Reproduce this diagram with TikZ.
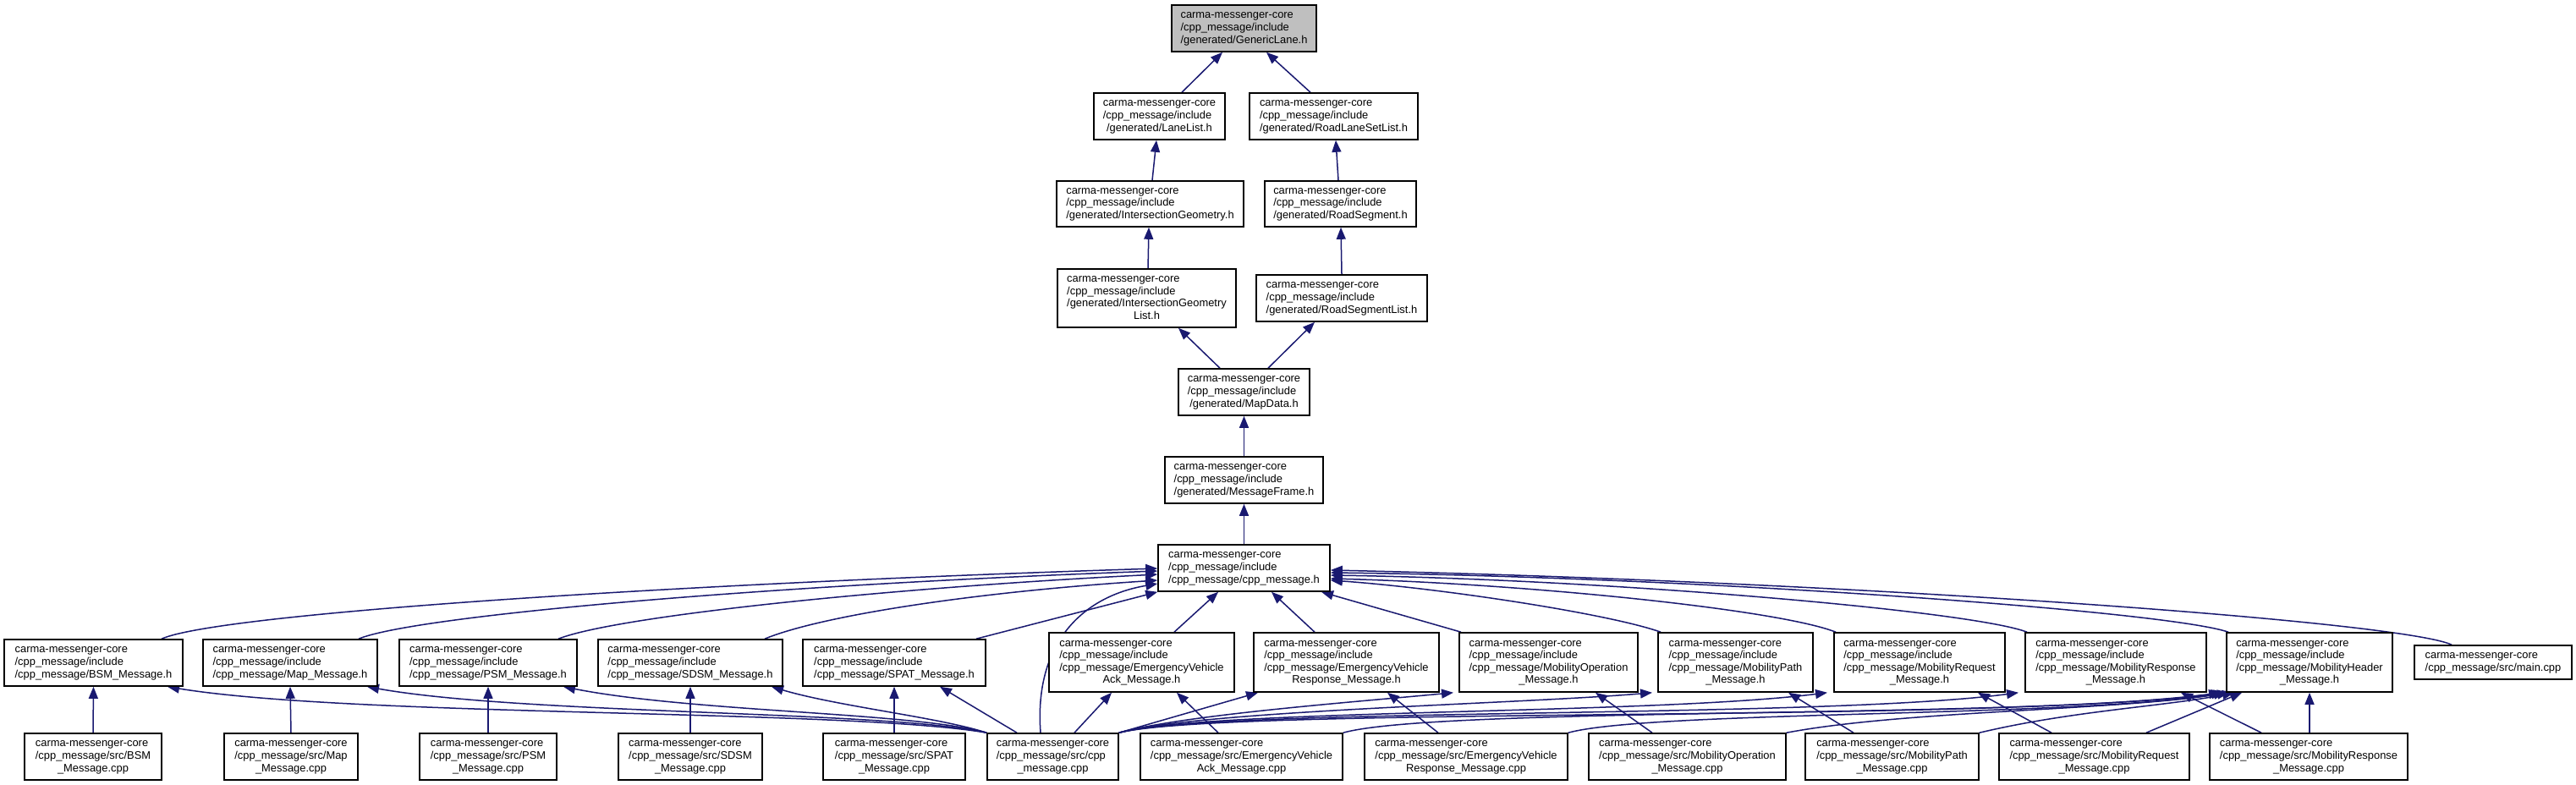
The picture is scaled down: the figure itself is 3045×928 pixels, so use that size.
\documentclass[tikz,border=0pt]{standalone}
\usepackage{fontspec}
\setmainfont{Liberation Sans}
\usetikzlibrary{arrows.meta,backgrounds}
\definecolor{edgeblue}{HTML}{191970}
\definecolor{boxgray}{HTML}{BFBFBF}
\newcommand\Ltab[1]{\begin{tabular}{@{}l@{}}#1\end{tabular}}
\newcommand\LC[1]{\multicolumn{1}{@{}c@{}}{#1}}
\newcommand\HI{carma-messenger-core\\/cpp\_message/include\\}
\newcommand\HS{carma-messenger-core\\}
\newcommand\mkbox[7][]{\node[nd,#1,minimum width={(#5-#3)*1pt},minimum height={(#6-#4)*1pt}] (#2) at ({(#3+#5)/2},{(#4+#6)/2}) {\Ltab{#7}};}
\tikzset{
  nd/.style={draw=black, line width=1.6pt, fill=white, inner sep=0pt, font=\fontsize{12.9}{14.6}\selectfont},
  ed/.style={draw=edgeblue, line width=1.5pt, -{Triangle[length=14pt,width=11pt]}}
}
\begin{document}
\begin{tikzpicture}[x=1pt,y=-1pt]
\useasboundingbox (0,0) rectangle (3045,928);
% top chain
\mkbox[fill=boxgray]{gl}{1385}{6}{1556}{61}{\HI\LC{/generated/GenericLane.h}}
\mkbox{ll}{1293}{110}{1448}{165}{\HI\LC{/generated/LaneList.h}}
\mkbox{rl}{1477}{110}{1676}{165}{\HI\LC{/generated/RoadLaneSetList.h}}
\mkbox{ig}{1249}{214}{1470}{268}{\HI\LC{/generated/IntersectionGeometry.h}}
\mkbox{rs}{1495}{214}{1674}{268}{\HI\LC{/generated/RoadSegment.h}}
\mkbox{igl}{1250}{318}{1461}{387}{\HI/generated/IntersectionGeometry\\\LC{List.h}}
\mkbox{rsl}{1485}{325}{1687}{380}{\HI\LC{/generated/RoadSegmentList.h}}
\mkbox{md}{1393}{436}{1548}{491}{\HI\LC{/generated/MapData.h}}
\mkbox{mf}{1377}{540}{1564}{595}{\HI\LC{/generated/MessageFrame.h}}
\mkbox{cmh}{1369}{644}{1572}{699}{\HI\LC{/cpp\_message/cpp\_message.h}}
% headers row
\mkbox{bsmh}{5}{756}{216}{811}{\HI\LC{/cpp\_message/BSM\_Message.h}}
\mkbox{maph}{240}{756}{446}{811}{\HI\LC{/cpp\_message/Map\_Message.h}}
\mkbox{psmh}{472}{756}{682}{811}{\HI\LC{/cpp\_message/PSM\_Message.h}}
\mkbox{sdsmh}{707}{756}{925}{811}{\HI\LC{/cpp\_message/SDSM\_Message.h}}
\mkbox{spath}{949}{756}{1165}{811}{\HI\LC{/cpp\_message/SPAT\_Message.h}}
\mkbox{evah}{1240}{748}{1459}{818}{\HI/cpp\_message/EmergencyVehicle\\\LC{Ack\_Message.h}}
\mkbox{evrh}{1482}{748}{1701}{818}{\HI/cpp\_message/EmergencyVehicle\\\LC{Response\_Message.h}}
\mkbox{moh}{1725}{748}{1936}{818}{\HI/cpp\_message/MobilityOperation\\\LC{\_Message.h}}
\mkbox{mph}{1960}{748}{2143}{818}{\HI/cpp\_message/MobilityPath\\\LC{\_Message.h}}
\mkbox{mrqh}{2168}{748}{2370}{818}{\HI/cpp\_message/MobilityRequest\\\LC{\_Message.h}}
\mkbox{mrsh}{2394}{748}{2608}{818}{\HI/cpp\_message/MobilityResponse\\\LC{\_Message.h}}
\mkbox{mhh}{2632}{748}{2828}{818}{\HI/cpp\_message/MobilityHeader\\\LC{\_Message.h}}
\mkbox{mainc}{2854}{763}{3040}{803}{\HS\LC{/cpp\_message/src/main.cpp}}
% sources row
\mkbox{bsmc}{29}{867}{191}{922}{\HS/cpp\_message/src/BSM\\\LC{\_Message.cpp}}
\mkbox{mapc}{265}{867}{423}{922}{\HS/cpp\_message/src/Map\\\LC{\_Message.cpp}}
\mkbox{psmc}{496}{867}{658}{922}{\HS/cpp\_message/src/PSM\\\LC{\_Message.cpp}}
\mkbox{sdsmc}{731}{867}{901}{922}{\HS/cpp\_message/src/SDSM\\\LC{\_Message.cpp}}
\mkbox{spatc}{973}{867}{1141}{922}{\HS/cpp\_message/src/SPAT\\\LC{\_Message.cpp}}
\mkbox{cppc}{1167}{867}{1322}{922}{\HS/cpp\_message/src/cpp\\\LC{\_message.cpp}}
\mkbox{evac}{1348}{867}{1587}{922}{\HS/cpp\_message/src/EmergencyVehicle\\\LC{Ack\_Message.cpp}}
\mkbox{evrc}{1613}{867}{1853}{922}{\HS/cpp\_message/src/EmergencyVehicle\\\LC{Response\_Message.cpp}}
\mkbox{moc}{1878}{867}{2111}{922}{\HS/cpp\_message/src/MobilityOperation\\\LC{\_Message.cpp}}
\mkbox{mpc}{2134}{867}{2339}{922}{\HS/cpp\_message/src/MobilityPath\\\LC{\_Message.cpp}}
\mkbox{mrqc}{2363}{867}{2588}{922}{\HS/cpp\_message/src/MobilityRequest\\\LC{\_Message.cpp}}
\mkbox{mrsc}{2612}{867}{2846}{922}{\HS/cpp\_message/src/MobilityResponse\\\LC{\_Message.cpp}}

\begin{scope}[on background layer]
\fill[white] (0,0) rectangle (3045,928);
% top chain edges
\draw[ed] (ll.north -| 1397,0) -- (gl.south -| 1445,0);
\draw[ed] (rl.north -| 1549,0) -- (gl.south -| 1497,0);
\draw[ed] (ig.north -| 1362,0) -- (ll.south -| 1367,0);
\draw[ed] (rs.north -| 1582,0) -- (rl.south -| 1579,0);
\draw[ed] (igl.north -| 1357,0) -- (ig.south -| 1358,0);
\draw[ed] (rsl.north -| 1586,0) -- (rs.south -| 1585,0);
\draw[ed] (md.north -| 1442,0) -- (igl.south -| 1393,0);
\draw[ed] (md.north -| 1499,0) -- (rsl.south -| 1554,0);
\draw[ed] (mf.north) -- (md.south);
\draw[ed] (cmh.north) -- (mf.south);
% headers -> cpp_message.h
\draw[ed] (bsmh.north -| 191,0) .. controls (260,725) and (800,690) .. (cmh.west |- 0,672);
\draw[ed] (maph.north -| 424,0) .. controls (490,728) and (900,692) .. (cmh.west |- 0,675);
\draw[ed] (psmh.north -| 660,0) .. controls (730,728) and (1050,695) .. (cmh.west |- 0,679);
\draw[ed] (sdsmh.north -| 904,0) .. controls (970,728) and (1150,700) .. (cmh.west |- 0,686);
\draw[ed] (spath.north -| 1154,0) -- (cmh.south west);
\draw[ed] (evah.north -| 1388,0) -- (cmh.south -| 1440,0);
\draw[ed] (evrh.north -| 1554,0) -- (cmh.south -| 1503,0);
\draw[ed] (moh.north -| 1727,0) -- (cmh.south -| 1562,0);
\draw[ed] (mph.north -| 1963,0) .. controls (1900,725) and (1700,695) .. (cmh.east |- 0,686);
\draw[ed] (mrqh.north -| 2170,0) .. controls (2100,720) and (1800,690) .. (cmh.east |- 0,684);
\draw[ed] (mrsh.north -| 2396,0) .. controls (2330,722) and (1900,685) .. (cmh.east |- 0,680);
\draw[ed] (mhh.north -| 2634,0) .. controls (2560,722) and (2000,682) .. (cmh.east |- 0,677);
\draw[ed] (mainc.north -| 2898,0) .. controls (2840,735) and (2200,688) .. (cmh.east |- 0,674);
\draw[ed] (cppc.north -| 1230,0) .. controls (1222,760) and (1280,705) .. (cmh.west |- 0,690);
% cpp_message.cpp -> headers
\draw[ed] (cppc.north west) .. controls (1000,838) and (420,848) .. (bsmh.south -| 198,0);
\draw[ed] (cppc.north west) .. controls (1050,840) and (620,845) .. (maph.south -| 434,0);
\draw[ed] (cppc.north west) .. controls (1080,842) and (820,842) .. (psmh.south -| 666,0);
\draw[ed] (cppc.north west) .. controls (1110,848) and (990,835) .. (sdsmh.south -| 912,0);
\draw[ed] (cppc.north -| 1202,0) -- (spath.south -| 1111,0);
\draw[ed] (cppc.north -| 1270,0) -- (evah.south -| 1314,0);
\draw[ed] (cppc.north east) -- (evrh.south -| 1487,0);
\draw[ed] (cppc.north east) .. controls (1400,845) and (1600,830) .. (moh.south -| 1718,0);
\draw[ed] (cppc.north east) .. controls (1420,840) and (1800,832) .. (mph.south -| 1953,0);
\draw[ed] (cppc.north east) .. controls (1430,838) and (1950,845) .. (mrqh.south -| 2160,0);
\draw[ed] (cppc.north east) .. controls (1440,836) and (2150,850) .. (mrsh.south -| 2386,0);
\draw[ed] (cppc.north east) .. controls (1450,835) and (2350,855) .. (mhh.south -| 2625,0);
% other sources -> MobilityHeader
\draw[ed] (evac.north east) .. controls (1700,835) and (2400,850) .. (mhh.south -| 2628,0);
\draw[ed] (evrc.north east) .. controls (1950,840) and (2450,848) .. (mhh.south -| 2631,0);
\draw[ed] (moc.north east) .. controls (2250,840) and (2500,840) .. (mhh.south -| 2635,0);
\draw[ed] (mpc.north east) .. controls (2450,840) and (2560,835) .. (mhh.south -| 2641,0);
\draw[ed] (mrqc.north -| 2537,0) -- (mhh.south -| 2650,0);
\draw[ed] (mrsc.north -| 2730,0) -- (mhh.south);
% sources -> own headers
\draw[ed] (bsmc.north) -- (bsmh.south);
\draw[ed] (mapc.north) -- (maph.south);
\draw[ed] (psmc.north) -- (psmh.south);
\draw[ed] (sdsmc.north) -- (sdsmh.south);
\draw[ed] (spatc.north) -- (spath.south);
\draw[ed] (evac.north -| 1440,0) -- (evah.south -| 1391,0);
\draw[ed] (evrc.north -| 1700,0) -- (evrh.south -| 1640,0);
\draw[ed] (moc.north -| 1953,0) -- (moh.south -| 1886,0);
\draw[ed] (mpc.north -| 2191,0) -- (mph.south -| 2114,0);
\draw[ed] (mrqc.north -| 2425,0) -- (mrqh.south -| 2338,0);
\draw[ed] (mrsc.north -| 2673,0) -- (mrsh.south -| 2578,0);
\end{scope}
\end{tikzpicture}
\end{document}
